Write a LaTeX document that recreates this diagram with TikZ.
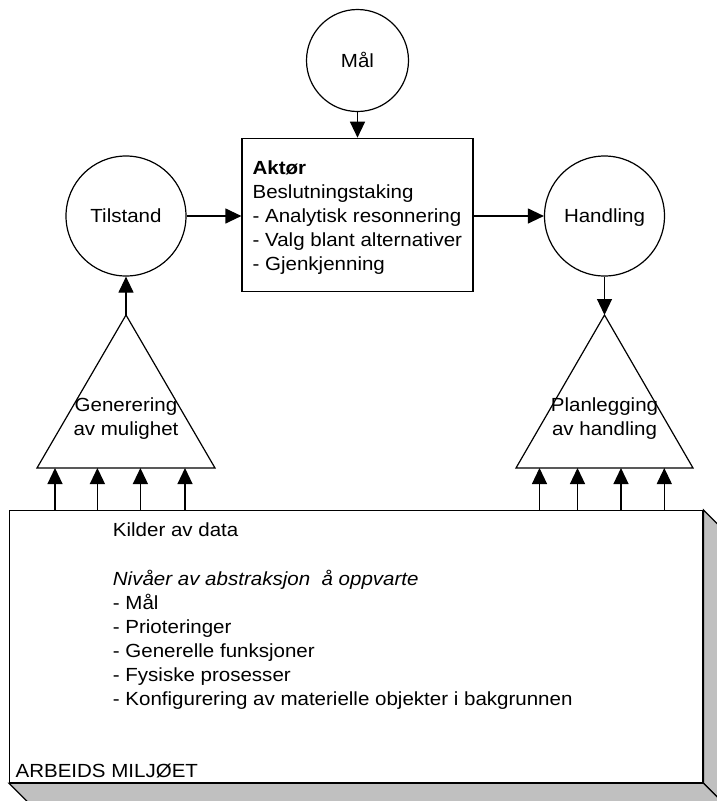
\documentclass[tikz,border=0pt]{standalone}
\usepackage{fontspec}
\setmainfont{Liberation Sans}[FakeStretch=1.08]
\usetikzlibrary{arrows.meta}

\begin{document}
\begin{tikzpicture}[x=1pt,y=-1pt,
  line width=1.2pt,
  txt/.style={font=\fontsize{19pt}{24pt}\selectfont, inner sep=0pt},
  line/.style={txt, anchor=base west},
  ctr/.style={txt, anchor=base},
  arr/.style={-{Triangle[length=16pt,width=15pt]}},
  state/.style={circle, draw, txt, text height=13.6pt, text depth=0pt},
  shade/.style={draw, fill=shadegray, line join=miter}
]
\definecolor{shadegray}{RGB}{192,192,192}
\useasboundingbox (0,0) rectangle (717,801);
\clip (0,0) rectangle (717,801);

% goal, state and action circles
\node[state, minimum size=102pt] (mal) at (357.5,60.5) {Mål};
\node[state, minimum size=120pt] (tilstand) at (126,216) {Tilstand};
\node[state, minimum size=120pt] (handling) at (604.5,216) {Handling};

% actor box
\node[draw, rectangle, minimum width=231pt, minimum height=153.4pt, inner sep=0pt]
  (aktor) at (357.5,215) {};
\node[line, font=\fontsize{19pt}{24pt}\selectfont\bfseries] (a1) at (252,174.3) {Aktør};
\node[line] (a2) at (252,198.3) {Beslutningstaking};
\node[line] (a3) at (252,222.3) {- Analytisk resonnering};
\node[line] (a4) at (252,246.3) {- Valg blant alternativer};
\node[line] (a5) at (252,270.3) {- Gjenkjenning};

\draw[arr] (mal.south) -- (aktor.north);
\draw[arr] (tilstand.east) -- (tilstand.east -| aktor.west);
\draw[arr] (aktor.east |- handling.west) -- (handling.west);

% the two triangles
\coordinate (gtop) at (126,315);
\coordinate (gl) at (37,468);
\coordinate (gr) at (215,468);
\coordinate (ptop) at (604.5,315);
\coordinate (pl) at (516,468);
\coordinate (pr) at (693,468);
\draw[line join=miter] (gtop) -- (gr) -- (gl) -- cycle;
\draw[line join=miter] (ptop) -- (pr) -- (pl) -- cycle;
\node[ctr] (g1) at (126,411.7) {Generering};
\node[ctr] (g2) at (126,435) {av mulighet};
\node[ctr] (p1) at (604.5,411.7) {Planlegging};
\node[ctr] (p2) at (604.5,435) {av handling};

\draw[arr] (gtop) -- (tilstand.south);
\draw[arr] (handling.south) -- (ptop);

% working environment block with depth faces
\node[draw, rectangle, anchor=north west, minimum width=693.3pt, minimum height=272pt,
  inner sep=0pt] (env) at (9,510) {};
\draw[shade] (env.north east) -- ([shift={(22,22)}]env.north east)
  -- ([shift={(22,22)}]env.south east) -- (env.south east) -- cycle;
\draw[shade] (env.south west) -- (env.south east)
  -- ([shift={(22,22)}]env.south east) -- ([shift={(22,22)}]env.south west) -- cycle;

\node[line] (k0) at (112.3,536.7) {Kilder av data};
\node[line, font=\fontsize{19pt}{24pt}\selectfont\itshape] (k1) at (112.3,585)
  {Nivåer av abstraksjon~~å oppvarte};
\node[line] (k2) at (112.3,609.5) {- Mål};
\node[line] (k3) at (112.3,633.5) {- Prioteringer};
\node[line] (k4) at (112.3,657.5) {- Generelle funksjoner};
\node[line] (k5) at (112.3,681.5) {- Fysiske prosesser};
\node[line] (k6) at (112.3,705.5) {- Konfigurering av materielle objekter i bakgrunnen};
\node[line] (lbl) at (15,777.7) {ARBEIDS MILJØET};

% data feeds from the environment into the triangles
\foreach \x [count=\i] in {55,97.4,140.4,185} {
  \coordinate (lf\i) at (\x,0);
  \draw[arr] (lf\i |- env.north) -- (lf\i |- gl);
}
\foreach \x [count=\i] in {539.5,577.5,621,664.3} {
  \coordinate (rf\i) at (\x,0);
  \draw[arr] (rf\i |- env.north) -- (rf\i |- pl);
}
\end{tikzpicture}
\end{document}
